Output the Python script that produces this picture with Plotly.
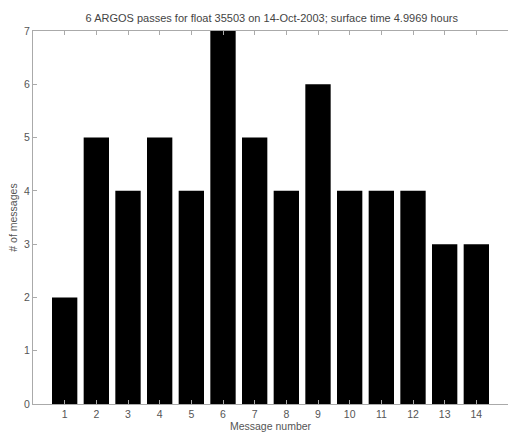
import plotly.graph_objects as go

# Messages received per message number
message_number = list(range(1, 15))
message_count = [2, 5, 4, 5, 4, 7, 5, 4, 6, 4, 4, 4, 3, 3]
y_ticks = list(range(0, 8))

title_text = "6 ARGOS passes for float 35503 on 14-Oct-2003; surface time 4.9969 hours"

fig = go.Figure(
    go.Bar(
        x=message_number,
        y=message_count,
        width=0.8,
        marker=dict(color="black", line=dict(width=0)),
    )
)

axis_font = dict(family="Liberation Sans, Arial, sans-serif", size=10.5, color="#555555")

fig.update_layout(
    width=508,
    height=433,
    margin=dict(l=33, r=0, t=31, b=29),
    paper_bgcolor="white",
    plot_bgcolor="white",
    showlegend=False,
    title=dict(
        text=title_text,
        x=0.535,
        xanchor="center",
        y=1 - 18 / 433,
        yanchor="middle",
        font=dict(family="Liberation Sans, Arial, sans-serif", size=11, color="#444444"),
    ),
    font=axis_font,
)

fig.update_xaxes(
    range=[0, 15],
    tickmode="array",
    tickvals=message_number,
    ticktext=[str(v) for v in message_number],
    ticks="inside",
    ticklen=4,
    tickcolor="#aaaaaa",
    showline=True,
    linecolor="#aaaaaa",
    linewidth=1,
    mirror="ticks",
    showgrid=False,
    zeroline=False,
    tickfont=axis_font,
    title=dict(text="Message number", standoff=1, font=axis_font),
)

fig.update_yaxes(
    range=[0, 7],
    tickmode="array",
    tickvals=y_ticks,
    ticktext=[str(v) for v in y_ticks],
    ticks="inside",
    ticklen=4,
    tickcolor="#aaaaaa",
    showline=True,
    linecolor="#aaaaaa",
    linewidth=1,
    showgrid=False,
    zeroline=False,
    tickfont=axis_font,
    title=dict(text="# of messages", standoff=4, font=axis_font),
)

fig.write_html("out.html")
